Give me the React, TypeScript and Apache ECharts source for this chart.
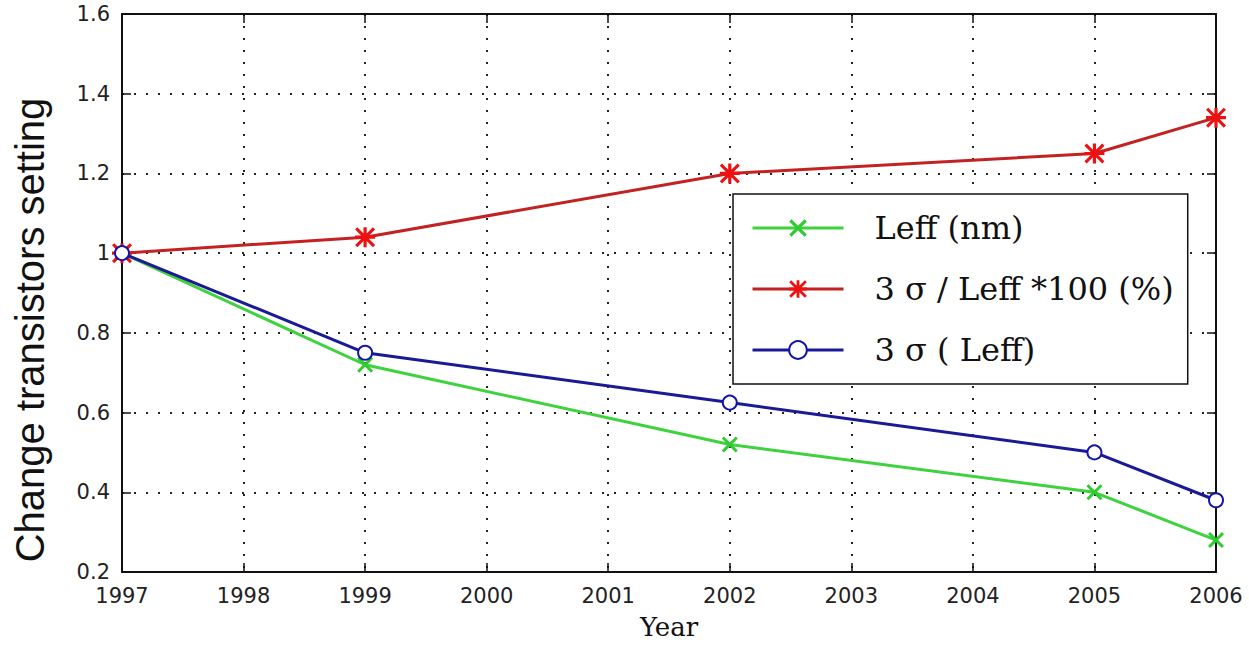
import React, { useEffect, useRef } from "react";
import * as echarts from "echarts";

// Years at which the transistor parameters were sampled
const years = [1997, 1999, 2002, 2005, 2006];

// Normalised change of each parameter (1997 = 1)
const leffNm = [1.0, 0.72, 0.52, 0.4, 0.28];
const sigmaOverLeff = [1.0, 1.04, 1.2, 1.25, 1.34];
const sigmaLeff = [1.0, 0.75, 0.625, 0.5, 0.38];

const seriesNames = ["Leff (nm)", "3 σ / Leff *100 (%)", "3 σ ( Leff)"];

// Axis ranges
const xRange = { min: 1997, max: 2006, step: 1 };
const yRange = { min: 0.2, max: 1.6, step: 0.2 };

const xTitle = "Year";
const yTitle = "Change transistors setting";

// Marker shapes: a thick "x" and an eight-armed asterisk
const crossSymbol =
  "path://M0,1.3 L1.3,0 L5,3.7 L8.7,0 L10,1.3 L6.3,5 L10,8.7 L8.7,10 L5,6.3 L1.3,10 L0,8.7 L3.7,5 Z";
const asteriskSymbol =
  "path://M4.2,0 L5.8,0 L5.8,10 L4.2,10 Z M0,4.2 L10,4.2 L10,5.8 L0,5.8 Z " +
  "M0,1.1 L1.1,0 L10,8.9 L8.9,10 Z M8.9,0 L10,1.1 L1.1,10 L0,8.9 Z";

const pairs = (vals: number[]) => years.map((y, i) => [y, vals[i]]);

export default function App() {
  const ref = useRef<HTMLDivElement>(null);

  useEffect(() => {
    document.body.style.margin = "0";
    if (!ref.current) return;
    const chart = echarts.init(ref.current, null, { renderer: "svg" });

    const tickLabel = {
      fontFamily: "DejaVu Sans",
      fontSize: 21,
      color: "#222",
    };
    const gridDots = {
      show: true,
      lineStyle: { color: "#222", width: 2, type: [2, 10] as number[] },
    };
    const frameLine = { show: true, onZero: false, lineStyle: { color: "#111", width: 2 } };
    const innerTick = { show: true, inside: true, length: 9, lineStyle: { color: "#111", width: 1.5 } };

    chart.setOption({
      animation: false,
      backgroundColor: "#fff",
      grid: { left: 122, top: 14, width: 1094, height: 563, containLabel: false },
      xAxis: [
        {
          type: "value",
          min: xRange.min,
          max: xRange.max,
          interval: xRange.step,
          axisLine: frameLine,
          axisTick: innerTick,
          axisLabel: { ...tickLabel, margin: 13, formatter: (v: number) => String(v) },
          splitLine: gridDots,
          name: xTitle,
          nameLocation: "middle",
          nameGap: 42,
          nameTextStyle: { fontFamily: "DejaVu Serif", fontSize: 26, color: "#111" },
        },
        {
          type: "value",
          position: "top",
          min: xRange.min,
          max: xRange.max,
          interval: xRange.step,
          axisLine: frameLine,
          axisTick: innerTick,
          axisLabel: { show: false },
          splitLine: { show: false },
        },
      ],
      yAxis: [
        {
          type: "value",
          min: yRange.min,
          max: yRange.max,
          interval: yRange.step,
          axisLine: frameLine,
          axisTick: innerTick,
          axisLabel: { ...tickLabel, margin: 12 },
          splitLine: gridDots,
        },
        {
          type: "value",
          position: "right",
          min: yRange.min,
          max: yRange.max,
          interval: yRange.step,
          axisLine: frameLine,
          axisTick: innerTick,
          axisLabel: { show: false },
          splitLine: { show: false },
        },
      ],
      legend: {
        orient: "vertical",
        left: 733,
        top: 194,
        padding: [18, 14, 18, 18],
        itemWidth: 91,
        itemHeight: 22,
        itemGap: 29,
        backgroundColor: "#fff",
        borderColor: "#111",
        borderWidth: 1.5,
        borderRadius: 0,
        lineStyle: { width: 3 },
        textStyle: {
          fontFamily: "DejaVu Serif",
          fontSize: 32,
          lineHeight: 22,
          color: "#111",
          padding: [0, 0, 0, 26],
        },
        data: seriesNames,
      },
      graphic: [
        {
          type: "text",
          x: 30,
          y: 330,
          rotation: Math.PI / 2,
          style: {
            text: yTitle,
            fontFamily: "Liberation Sans",
            fontSize: 40,
            fill: "#111",
            textAlign: "center",
            textVerticalAlign: "middle",
          },
        },
      ],
      series: [
        {
          name: seriesNames[0],
          type: "line",
          data: pairs(leffNm),
          symbol: crossSymbol,
          symbolSize: 16,
          lineStyle: { color: "#3fd23f", width: 3 },
          itemStyle: { color: "#2ecc2e" },
          z: 2,
        },
        {
          name: seriesNames[1],
          type: "line",
          data: pairs(sigmaOverLeff),
          symbol: asteriskSymbol,
          symbolSize: 20,
          lineStyle: { color: "#c42222", width: 3 },
          itemStyle: { color: "#ee1111" },
          z: 3,
        },
        {
          name: seriesNames[2],
          type: "line",
          data: pairs(sigmaLeff),
          symbol: "emptyCircle",
          symbolSize: 14,
          lineStyle: { color: "#1a1a96", width: 3 },
          itemStyle: { color: "#1414a8", borderWidth: 2.5 },
          z: 4,
        },
      ],
    });

    return () => chart.dispose();
  }, []);

  return (
    <div
      ref={ref}
      style={{ position: "fixed", left: 0, top: 0, width: 1249, height: 645 }}
    />
  );
}
